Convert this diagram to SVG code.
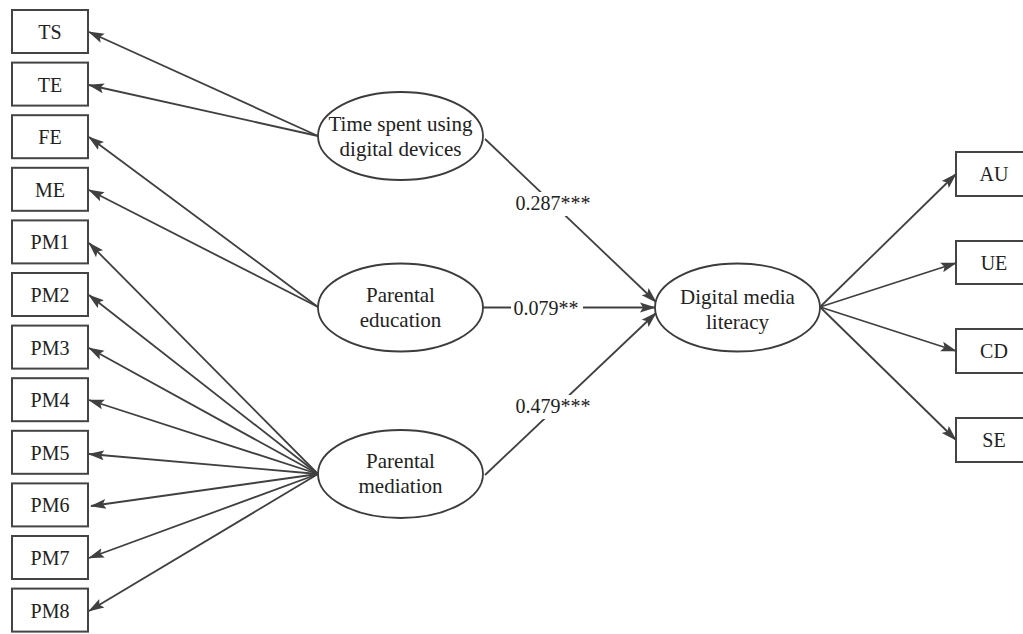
<svg xmlns="http://www.w3.org/2000/svg" width="1023" height="634" viewBox="0 0 1023 634">
  <style>
    .box { fill: #fff; stroke: #444; stroke-width: 2; }
    .ell { fill: #fff; stroke: #3c3c3c; stroke-width: 1.8; }
    .lbl { font-family: "Liberation Serif", "Times New Roman", serif; font-size: 20px; fill: #222; text-anchor: middle; }
    .elbl { font-family: "Liberation Serif", "Times New Roman", serif; font-size: 21px; fill: #222; text-anchor: middle; }
    .coef { font-family: "Liberation Serif", "Times New Roman", serif; font-size: 20px; fill: #222; text-anchor: middle; }
    .edge { fill: none; stroke: #404040; stroke-width: 1.8; marker-end: url(#arr); }
  </style>
  <defs>
    <marker id="arr" markerUnits="userSpaceOnUse" markerWidth="16" markerHeight="12" refX="15" refY="5" orient="auto" viewBox="0 0 16 10">
      <path d="M0,0 L16,5 L0,10 L3,5 z" fill="#404040"/>
    </marker>
  </defs>
  <rect width="1023" height="634" fill="#fff"/>

  <!-- connectors -->
  <g id="connectors">
    <!-- time spent indicators -->
    <line class="edge" x1="318" y1="136" x2="89" y2="32"/>
    <line class="edge" x1="318" y1="136" x2="89" y2="85"/>
    <!-- parental education indicators -->
    <line class="edge" x1="318" y1="307" x2="89" y2="137"/>
    <line class="edge" x1="318" y1="307" x2="89" y2="190"/>
    <!-- parental mediation indicators -->
    <line class="edge" x1="318" y1="474" x2="89" y2="243"/>
    <line class="edge" x1="318" y1="474" x2="89" y2="295"/>
    <line class="edge" x1="318" y1="474" x2="89" y2="348"/>
    <line class="edge" x1="318" y1="474" x2="89" y2="400"/>
    <line class="edge" x1="318" y1="474" x2="89" y2="454"/>
    <line class="edge" x1="318" y1="474" x2="91" y2="506"/>
    <line class="edge" x1="318" y1="474" x2="89" y2="558"/>
    <line class="edge" x1="318" y1="474" x2="89" y2="611"/>
    <!-- structural paths -->
    <line class="edge" x1="485" y1="139" x2="656" y2="302"/>
    <line class="edge" x1="483" y1="307.5" x2="655" y2="307.5"/>
    <line class="edge" x1="485" y1="475" x2="656" y2="313"/>
    <!-- digital media literacy indicators -->
    <line class="edge" x1="820" y1="307" x2="956" y2="174"/>
    <line class="edge" x1="820" y1="307" x2="956" y2="263"/>
    <line class="edge" x1="820" y1="307" x2="956" y2="351"/>
    <line class="edge" x1="820" y1="307" x2="956" y2="440"/>
    <!-- path coefficients -->
    <rect x="511" y="192" width="84" height="24" fill="#fff"/>
    <text class="coef" x="553" y="210">0.287***</text>
    <rect x="511" y="297" width="72" height="24" fill="#fff"/>
    <text class="coef" x="546" y="315">0.079**</text>
    <rect x="511" y="395" width="84" height="24" fill="#fff"/>
    <text class="coef" x="553" y="413">0.479***</text>
  </g>

  <!-- observed indicators, left -->
  <g id="TS"><rect class="box" x="12" y="10" width="76" height="43"/><text class="lbl" x="50" y="39">TS</text></g>
  <g id="TE"><rect class="box" x="12" y="62.6" width="76" height="43"/><text class="lbl" x="50" y="91.6">TE</text></g>
  <g id="FE"><rect class="box" x="12" y="115.2" width="76" height="43"/><text class="lbl" x="50" y="144.2">FE</text></g>
  <g id="ME"><rect class="box" x="12" y="167.8" width="76" height="43"/><text class="lbl" x="50" y="196.8">ME</text></g>
  <g id="PM1"><rect class="box" x="12" y="220.4" width="76" height="43"/><text class="lbl" x="50" y="249.4">PM1</text></g>
  <g id="PM2"><rect class="box" x="12" y="273" width="76" height="43"/><text class="lbl" x="50" y="302">PM2</text></g>
  <g id="PM3"><rect class="box" x="12" y="325.6" width="76" height="43"/><text class="lbl" x="50" y="354.6">PM3</text></g>
  <g id="PM4"><rect class="box" x="12" y="378.2" width="76" height="43"/><text class="lbl" x="50" y="407.2">PM4</text></g>
  <g id="PM5"><rect class="box" x="12" y="430.8" width="76" height="43"/><text class="lbl" x="50" y="459.8">PM5</text></g>
  <g id="PM6"><rect class="box" x="12" y="483.4" width="76" height="43"/><text class="lbl" x="50" y="512.4">PM6</text></g>
  <g id="PM7"><rect class="box" x="12" y="536" width="76" height="43"/><text class="lbl" x="50" y="565">PM7</text></g>
  <g id="PM8"><rect class="box" x="12" y="588.6" width="76" height="43"/><text class="lbl" x="50" y="617.6">PM8</text></g>

  <!-- latent variables -->
  <g id="time-spent">
    <ellipse class="ell" cx="400.5" cy="136" rx="82.5" ry="44"/>
    <text class="elbl" x="400.5" y="131">Time spent using</text>
    <text class="elbl" x="400.5" y="156">digital devices</text>
  </g>
  <g id="parental-education">
    <ellipse class="ell" cx="400.5" cy="307.5" rx="82.5" ry="44"/>
    <text class="elbl" x="400.5" y="302">Parental</text>
    <text class="elbl" x="400.5" y="327">education</text>
  </g>
  <g id="parental-mediation">
    <ellipse class="ell" cx="400.5" cy="474" rx="82.5" ry="44"/>
    <text class="elbl" x="400.5" y="468">Parental</text>
    <text class="elbl" x="400.5" y="493">mediation</text>
  </g>
  <g id="digital-media-literacy">
    <ellipse class="ell" cx="737.5" cy="307.5" rx="82.5" ry="44"/>
    <text class="elbl" x="737.5" y="304">Digital media</text>
    <text class="elbl" x="737.5" y="329">literacy</text>
  </g>

  <!-- observed indicators, right -->
  <g id="AU"><rect class="box" x="956" y="152" width="76" height="44"/><text class="lbl" x="994" y="181">AU</text></g>
  <g id="UE"><rect class="box" x="956" y="241" width="76" height="43"/><text class="lbl" x="994" y="270">UE</text></g>
  <g id="CD"><rect class="box" x="956" y="329" width="76" height="44"/><text class="lbl" x="994" y="358">CD</text></g>
  <g id="SE"><rect class="box" x="956" y="418" width="76" height="44"/><text class="lbl" x="994" y="447">SE</text></g>
</svg>
